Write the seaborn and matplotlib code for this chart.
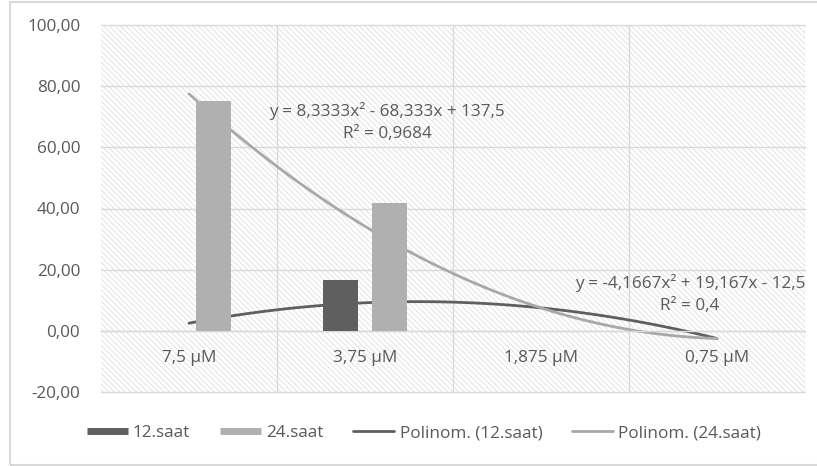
import numpy as np
import pandas as pd
import matplotlib
matplotlib.use("Agg")
import matplotlib.pyplot as plt
from matplotlib.patches import Rectangle
from matplotlib.lines import Line2D
from matplotlib.ticker import FixedLocator, FuncFormatter
import seaborn as sns

# ---- data ----
categories = ["7,5 µM", "3,75 µM", "1,875 µM", "0,75 µM"]
saat12 = [0.0, 16.67, 0.0, 0.0]
saat24 = [75.0, 41.67, 0.0, 0.0]
series_names = ["12.saat", "24.saat"]
trend_names = ["Polinom. (12.saat)", "Polinom. (24.saat)"]
y_ticks = [-20, 0, 20, 40, 60, 80, 100]
eq12 = "y = -4,1667x² + 19,167x - 12,5\nR² = 0,4"
eq24 = "y = 8,3333x² - 68,333x + 137,5\nR² = 0,9684"

# ---- style ----
sns.set_theme(style="white")
plt.rcParams["font.family"] = ["Open Sans", "DejaVu Sans"]
plt.rcParams["hatch.color"] = "#dedede"
plt.rcParams["hatch.linewidth"] = 0.6

DARK = "#5f5f5f"
LIGHT = "#b0b0b0"
TREND_LIGHT = "#a8a8a8"
TXT = "#595959"
GRID = "#d9d9d9"
FS = 12.3

W, H = 817, 466
fig = plt.figure(figsize=(W / 100, H / 100), dpi=100)
fig.patch.set_facecolor("white")

# outer chart border
fig.add_artist(Rectangle((10 / W, 1 / H), 2.0, (H - 3) / H, transform=fig.transFigure,
                         facecolor="none", edgecolor=GRID, lw=1.5, zorder=0))

ax = fig.add_axes([101 / W, (H - 392) / H, 704 / W, 367 / H])
ax.set_facecolor("white")
ax.add_patch(Rectangle((0, 0), 1, 1, transform=ax.transAxes, facecolor="white",
                       edgecolor="#dedede", hatch="\\" * 6, lw=0, zorder=0))

df = pd.DataFrame({
    "kategori": categories * 2,
    "deger": saat12 + saat24,
    "seri": [series_names[0]] * len(categories) + [series_names[1]] * len(categories),
})

xpos = np.arange(len(categories))
# trendlines (2nd-order polynomial fit), drawn behind the bars
sns.regplot(x=xpos, y=np.array(saat12), order=2, ci=None, scatter=False, truncate=True,
            line_kws=dict(color=DARK, lw=2.0, zorder=2), ax=ax)
sns.regplot(x=xpos, y=np.array(saat24), order=2, ci=None, scatter=False, truncate=True,
            line_kws=dict(color=TREND_LIGHT, lw=2.0, zorder=2), ax=ax)

sns.barplot(data=df, x="kategori", y="deger", hue="seri", palette=[DARK, LIGHT],
            width=0.56, gap=0.28, saturation=1, legend=False, linewidth=0, ax=ax)
for p in ax.patches[1:]:
    p.set_zorder(3)
    p.set_linewidth(0)

ax.set_xlim(-0.5, len(categories) - 0.5)
ax.set_ylim(y_ticks[0], y_ticks[-1])
ax.set_xlabel("")
ax.set_ylabel("")

ax.yaxis.set_major_locator(FixedLocator(y_ticks))
ax.yaxis.set_major_formatter(FuncFormatter(lambda v, p: f"{v:.2f}".replace(".", ",")))
ax.set_xticks(xpos)
ax.set_xticklabels(categories)
ax.set_xticks(np.arange(len(categories)) + 0.5, minor=True)

ax.grid(True, which="major", axis="y", color=GRID, lw=1.0, zorder=1)
ax.grid(True, which="minor", axis="x", color=GRID, lw=1.0, zorder=1)
ax.grid(False, which="major", axis="x")
ax.set_axisbelow(True)
for gl in ax.get_ygridlines():
    gl.set_clip_on(False)

ax.spines["bottom"].set_position(("data", 0))
ax.spines["bottom"].set_color(GRID)
ax.spines["bottom"].set_linewidth(1.0)
for s in ["top", "left", "right"]:
    ax.spines[s].set_visible(False)

ax.tick_params(axis="x", which="both", length=0, pad=14, labelsize=FS, labelcolor=TXT)
ax.tick_params(axis="y", which="both", length=0, pad=15, labelsize=FS, labelcolor=TXT)

# trendline equations
def px(x, y):
    return x / W, 1 - y / H

fig.text(*px(387, 122), eq24, ha="center", va="center", ma="center", fontsize=FS,
         color=TXT, linespacing=1.45)
fig.text(*px(690, 294), eq12, ha="center", va="center", ma="center", fontsize=FS,
         color=TXT, linespacing=1.45)

handles = [
    Line2D([], [], color=DARK, lw=5, solid_capstyle="butt"),
    Line2D([], [], color=LIGHT, lw=5, solid_capstyle="butt"),
    Line2D([], [], color=DARK, lw=2.0),
    Line2D([], [], color=TREND_LIGHT, lw=2.0),
]
labels = series_names + trend_names
fig.legend(handles, labels, loc="center", bbox_to_anchor=px(424, 433), ncol=4,
           frameon=False, fontsize=FS, labelcolor=TXT, handlelength=2.4,
           handletextpad=0.3, columnspacing=1.75)

fig.savefig("out.png", dpi=100, facecolor="white")
